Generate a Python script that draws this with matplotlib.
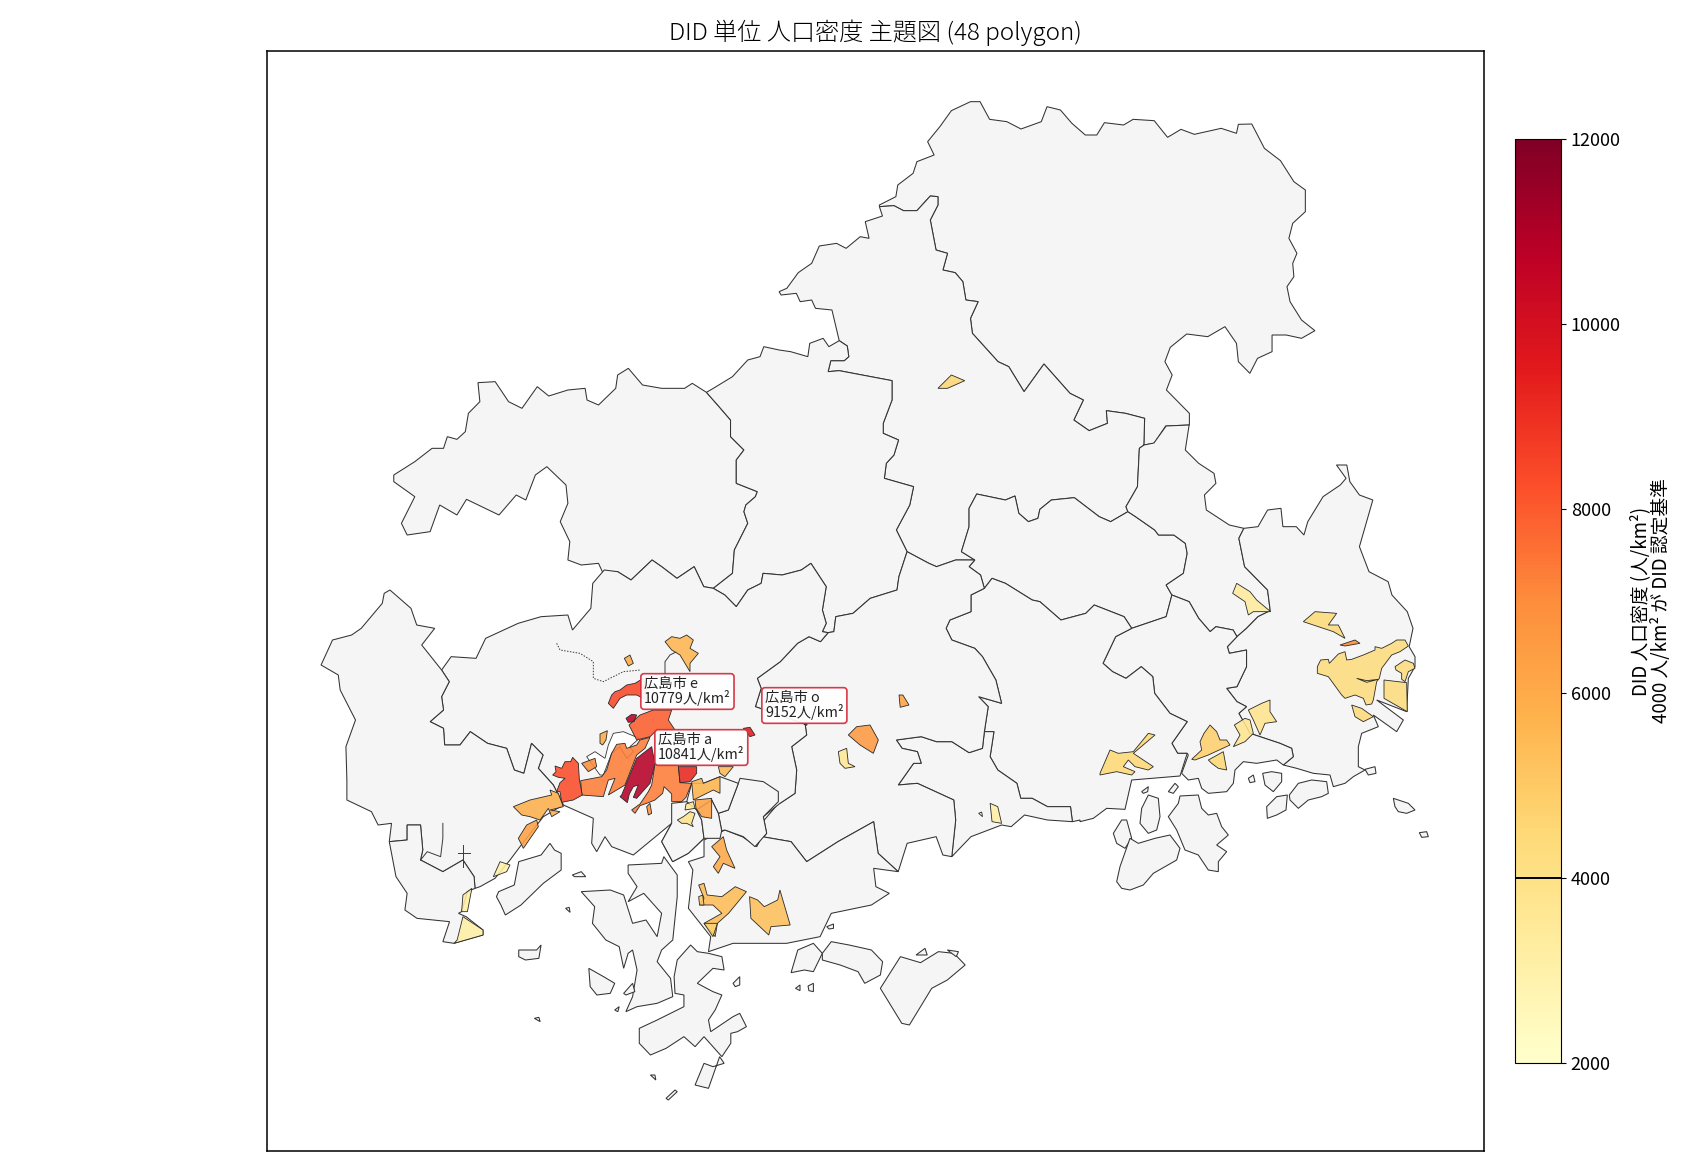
import numpy as np
import matplotlib
matplotlib.use("Agg")
import matplotlib.pyplot as plt
from matplotlib.patches import Polygon
from matplotlib.colors import Normalize
from matplotlib.cm import ScalarMappable

plt.rcParams['font.family'] = ['Noto Sans CJK JP', 'DejaVu Sans']

def sheet(x0, y0, sx, sy):
    return lambda pts: np.array(pts, float) / [sx, sy] + [x0, y0]
z1 = sheet(480, 620, 3, 3)
z2 = sheet(1080, 560, 3, 3)
z4 = sheet(300, 780, 2.24, 3)
z5 = sheet(300, 360, 2.613, 3)
z6 = sheet(760, 90, 2.613, 3)
z7 = sheet(860, 420, 2.613, 3)
z9 = sheet(540, 660, 3, 3)

# ---- shared boundaries
b_w1w2 = np.vstack([z5([(370,930),(390,965),(370,1010),(375,1050),(340,1085),(375,1105),(378,1155),(418,1155),(445,1115),(490,1150),(540,1165),(560,1230),(585,1240),(605,1150),(635,1185)]), z1([(175,445),(220,495)])])
b_inner = z4([(200,185),(240,180),(240,135),(270,135),(275,210),(270,240),(320,275),(365,240),(390,290),(392,325)])
b_w2top = z5([(370,930),(395,890),(460,895),(485,835),(570,790),(630,770),(700,765),(712,810)])
b_hs_n = z5([(712,810),(760,745),(765,670),(795,630),(830,635),(865,660),(920,600),(945,620),(985,655),(1030,620),(1055,680),(1080,685),(1110,705),(1140,740),(1170,690),(1205,670),(1210,640),(1260,645),(1310,630),(1335,610),(1375,680),(1365,750),(1375,790),(1365,815),(1380,818)])
b_hs_h = np.vstack([z5([(1380,818),(1360,845),(1330,830),(1300,850),(1255,905),(1195,955),(1205,985),(1190,1040),(1325,1095)]), z1([(975,310),(980,345),(935,380),(950,450),(945,520)])])
b_h_kure = np.vstack([z1([(945,520),(900,550)]), z4([(1075,65),(1040,120),(1035,170),(1100,185),(1135,245),(1205,185),(1285,125),(1295,220),(1340,275)])])
b_aki_h = np.vstack([z5([(1380,818),(1395,815),(1400,770),(1445,760),(1490,715),(1560,690),(1565,650)]), z7([(123,395)])])
b_miy_aki = np.vstack([z7([(123,395),(95,330),(130,255),(140,200)]), z6([(325,1165),(330,1120),(350,1095),(362,1050),(322,1030),(322,1000),(345,930),(345,872),(207,842),(178,845),(185,812),(220,812),(232,800),(228,768),(207,752)])])
b_miy_sho = z6([(1003,1065),(1005,985),(955,970),(905,962),(908,1000),(860,1022),(820,990),(845,930),(810,910),(742,822),(690,905),(650,830),(622,815),(555,730),(550,685),(570,635),(538,630),(530,575),(510,548),(478,540),(490,490),(460,480),(445,390),(465,345),(465,320),(445,318),(410,362),(375,362),(350,347),(312,350)])
b_miy_sera = z7([(123,395),(180,430),(200,440),(250,420),(300,420),(265,395),(285,320),(285,265),(305,222),(380,240),(405,228),(415,280),(440,305),(465,295),(470,268),(500,240),(560,233),(625,290),(655,305),(700,275)])
b_sera_r2 = z7([(700,275),(720,290),(770,330),(780,345),(820,345),(850,370),(855,400),(845,460),(800,495),(815,525)])
b_sera_h = z7([(300,420),(285,440),(315,465),(325,505),(345,475),(380,490),(450,540),(470,545),(525,600),(590,580),(612,555),(690,590),(710,625)])
b_sera_on = z7([(815,525),(800,590),(710,625)])
b_r2_r3 = z7([(1003,325),(990,355),(1005,440),(1065,510),(1072,572),(1040,590),(1010,625),(985,650)])
b_r2_on = z7([(815,525),(860,545),(885,595),(915,635),(930,620),(975,630),(985,650)])
b_mi_on = z7([(710,625),(668,650),(635,730),(660,755),(695,775),(735,740),(765,770),(770,820),(810,880),(855,905),(815,970),(830,1000),(855,1000)])
b_on_r3 = np.vstack([z7([(985,650),(960,680),(965,700),(1010,690),(1010,740),(985,800),(958,805),(985,845),(1010,860),(990,880)]), z2([(510,520),(600,550),(635,565),(640,590),(610,615)])])
b_h_mi = z7([(325,505),(290,525),(290,575),(235,600),(225,625),(240,660),(300,685),(320,710),(355,780),(370,850),(310,830),(335,860),(325,935)])
b_ta_mi = z7([(325,935),(350,935),(340,1010),(360,1050),(410,1090),(420,1135),(450,1135),(490,1160),(550,1160),(555,1205)])
b_h_ta = np.vstack([z7([(325,935),(320,985),(285,998),(240,965),(200,965),(160,950),(95,960),(110,985),(150,995),(160,1030),(140,1030),(100,1095),(150,1090),(245,1140),(250,1200)]), z4([(1460,230)])])

# ---- municipalities (no DID fill)
shobara = np.vstack([z6([(312,345),(355,320),(360,285),(400,250),(410,215),(455,195),(438,155),(470,110),(500,62),(550,35),(575,35),(600,88),(645,95),(682,117),(735,95),(750,50),(785,60),(815,100),(850,135),(880,135),(900,98),(950,105),(975,88),(1030,92),(1065,142),(1100,118),(1135,133),(1205,115),(1245,130),(1250,103),(1285,102),(1318,175),(1360,212),(1395,275),(1425,300),(1425,365),(1392,400),(1382,445),(1403,490),(1392,520),(1395,560),(1377,590),(1385,635),(1415,690),(1450,722),(1415,745),(1375,735),(1338,735),(1338,785),(1300,805),(1280,850),(1250,815),(1245,760),(1215,710),(1170,740),(1115,732),(1072,772),(1058,815),(1077,855),(1062,900),(1122,970),(1122,1005),(1060,1008),(1030,1060)]), b_miy_sho])
miyoshi = np.vstack([z6([(312,350),(320,378),(275,395),(285,445),(262,440),(225,475),(200,460),(155,468),(135,520),(100,548),(70,595),(50,605),(55,615),(95,610),(105,635),(135,630),(145,655),(188,660)]), b_miy_aki[::-1], b_miy_sera, z7([(695,260),(725,200),(730,85),(742,75)]), b_miy_sho])
sera = np.vstack([b_miy_sera[4:], b_sera_r2, b_sera_on, b_sera_h[::-1]])
north_west = z5([(245,345),(300,305),(345,265),(375,265),(385,230),(410,238),(432,215),(440,160),(470,125),(465,68),(510,65),(545,125),(580,145),(620,80),(650,108),(700,90),(745,85),(750,120),(780,135),(825,85),(830,45),(858,25),(895,75),(945,85),(1005,85),(1025,70),(1062,97),(1095,140),(1125,180),(1125,230),(1160,270),(1140,300),(1140,370),(1195,395),(1190,410),(1165,435),(1160,455),(1170,490),(1135,570),(1130,640),(1080,685),(1055,680),(1030,620),(985,655),(945,620),(920,600),(865,660),(830,635),(790,635),(780,610),(735,615),(700,600),(705,545),(680,485),(700,430),(695,375),(645,320),(615,345),(590,420),(565,405),(520,465),(435,418),(410,465),(365,435),(340,515),(280,525),(265,490),(300,410),(245,365)])
akitakata = np.vstack([z5([(1062,97),(1080,85),(1130,50),(1170,0)]), z6([(0,800),(10,770),(50,780),(80,785),(125,800),(130,760),(165,745),(180,770),(207,752)]), b_miy_aki[::-1], b_aki_h[::-1], b_hs_n[::-1][:14], z5([(1130,640),(1135,570),(1170,490),(1160,455),(1165,435),(1190,410),(1195,395),(1140,370),(1140,300),(1160,270),(1125,230),(1125,180),(1095,140)])])
fuchu = np.vstack([z7([(742,75),(768,69),(800,18),(860,15),(850,90),(885,130),(925,160),(930,190),(900,225),(905,270),(965,315),(1003,325)]), b_r2_r3, b_r2_on[::-1], b_sera_r2[::-1], z7([(695,260),(725,200),(730,85)])])
fukuyama = np.vstack([z7([(1003,325),(1040,320),(1065,270),(1100,265),(1105,320),(1140,320),(1160,345),(1170,305),(1210,230),(1255,195),(1270,175),(1245,135),(1272,135),(1280,185),(1305,225),(1340,240),(1310,360),(1305,380),(1330,455),(1380,485),(1390,525),(1430,575),(1445,625),(1435,680)]), z2([(1005,290),(1005,320),(985,355),(980,455),(890,420),(970,480),(950,515),(880,465),(895,500),(845,520),(835,560),(835,620),(855,630),(820,650),(795,670),(760,680),(750,645),(700,640),(650,625),(610,615)]), b_on_r3[::-1], b_r2_r3[::-1]])
onomichi = np.vstack([b_mi_on, z2([(325,585),(305,640),(325,660),(355,655),(365,685),(385,700),(440,695),(460,670),(465,630),(490,605),(530,610),(590,600),(610,615)]), b_on_r3[::-1], b_r2_on[::-1], b_sera_on])
mihara = np.vstack([b_mi_on, z2([(300,648),(155,660),(135,748),(80,745),(40,775),(0,785)]), z7([(575,1200)]), b_ta_mi[::-1], b_h_mi[::-1], b_sera_h[3:]])
takehara = np.vstack([b_ta_mi, z7([(490,1200),(430,1185),(395,1220),(370,1215),(290,1250)]), b_h_ta[::-1]])
higashihiroshima = np.vstack([b_hs_h, b_h_kure, z4([(1360,190),(1425,170),(1440,225),(1460,230)]), b_h_ta[::-1], b_h_mi[::-1], b_sera_h[:4][::-1], b_miy_sera[:5][::-1], b_aki_h[::-1]])
hiroshima_w = np.vstack([b_w2top, b_hs_n, b_hs_h, z1([(900,550),(850,590),(860,640),(825,680),(735,630),(672,655),(625,700),(578,725),(545,665),(575,610),(460,705),(395,680),(375,650),(350,695),(335,670),(340,595),(250,555)]), b_w1w2[::-1]])
otake_n = np.vstack([z5([(55,915),(85,840),(135,825),(160,805),(215,730),(220,700),(235,690),(290,745),(305,795),(352,805),(318,855),(370,930)]), b_w1w2, z1([(250,555),(190,590),(120,680),(90,720),(45,775),(0,800)]), b_inner[::-1], z4([(205,130),(175,135),(160,95),(105,60),(105,0)]), z5([(120,1160),(145,1080),(105,990),(100,945)])])
otake_s = np.vstack([b_inner, z4([(375,335),(362,395),(355,400),(372,410),(410,450),(410,465),(345,490),(320,485),(335,425),(262,415),(235,390),(240,340),(215,290)])])
kure = z4([(905,180),(952,150),(992,171),(1023,200),(1035,170),(1100,185),(1135,245),(1205,185),(1285,125),(1295,220),(1340,275),(1285,265),(1290,320),(1320,340),(1280,375),(1190,400),(1165,470),(1090,490),(970,490),(915,515),(920,470),(870,385),(880,270),(870,245),(905,230)])
kumano = z1([(775,490),(780,475),(850,485),(895,515),(895,545),(850,590),(860,640),(825,680),(790,650),(735,630),(725,632),(715,580),(745,570)])
kaita = z1([(670,490),(720,470),(775,490),(745,570),(715,580),(695,540),(650,570),(620,545),(635,490)])
saka = z1([(575,550),(620,545),(650,570),(665,600),(672,655),(625,700),(578,725),(545,665),(575,610)])
fukuyama_s = z1([(650,570),(695,540),(715,580),(725,632),(720,655),(672,655),(665,600)])

# ---- islands
miyajima = z4([(440,350),(445,335),(480,315),(490,245),(540,225),(560,190),(570,210),(585,220),(585,270),(545,310),(495,375),(460,405),(450,375)])
etajima = z4([(735,255),(810,250),(815,230),(845,285),(845,350),(835,480),(810,510),(800,545),(830,595),(835,650),(800,670),(755,680),(730,695),(745,650),(755,570),(745,510),(735,520),(725,565),(715,500),(685,480),(655,430),(660,380),(630,335),(695,330),(725,345),(745,430),(775,420),(800,470),(810,400),(770,340),(735,365),(755,320),(735,280)])
kurahashi = z4([(845,540),(875,495),(890,515),(915,520),(945,530),(950,570),(925,565),(890,610),(925,635),(945,645),(930,690),(915,720),(920,755),(970,710),(985,700),(1000,740),(980,755),(965,760),(965,790),(945,830),(905,770),(885,800),(860,770),(820,805),(785,825),(760,790),(760,745),(800,720),(860,680),(860,645),(840,640),(838,590)])
kurahashi_s = z4([(885,915),(905,850),(925,860),(950,850),(940,830),(915,925)])
kamagari_w = z4([(1100,578),(1115,510),(1150,490),(1170,520),(1150,575),(1130,570)])
kamagari_e = z4([(1170,520),(1190,485),(1230,495),(1280,510),(1305,545),(1300,585),(1265,610),(1250,575),(1210,555),(1170,540)])
osaki = z4([(1300,625),(1345,530),(1390,548),(1430,515),(1465,520),(1490,555),(1450,600),(1415,625),(1365,735),(1348,730)])
isl_a = z4([(490,510),(530,510),(540,495),(535,535),(505,540),(490,530)])
isl_b = z4([(610,285),(630,275),(640,290),(615,290)])
isl_c = z4([(647,565),(680,590),(705,610),(695,640),(665,645),(650,620)])
isl_d = z4([(725,640),(745,610),(750,635),(730,645)])
isl_e = z4([(970,610),(985,590),(985,615),(975,620)])
isl_f = z4([(1380,525),(1400,505),(1405,525)])
isl_g = z4([(1450,510),(1475,515),(1470,530)])
isl_h = z4([(1110,625),(1120,615),(1120,632)])
isl_i = z4([(1138,618),(1150,610),(1150,635),(1140,632)])
isl_j = z4([(595,385),(603,382),(605,397)])
isl_k = z4([(525,715),(535,712),(538,725)])
isl_l = z4([(820,955),(840,930),(845,935),(825,960)])
isl_m = z4([(785,885),(795,885),(797,900)])
isl_n = z4([(705,690),(715,680),(712,695)])
isl_o = z4([(1180,440),(1195,432),(1195,445),(1185,447)])
mukai = z2([(185,745),(205,705),(235,715),(240,770),(230,810),(205,820),(180,790)])
mukai_a = z2([(185,695),(205,680),(203,695),(190,700)])
mukai_b = z2([(265,695),(285,670),(295,680),(280,700)])
innoshima = z2([(265,770),(295,730),(300,708),(355,705),(365,745),(385,765),(410,760),(425,800),(445,825),(410,855),(440,875),(415,905),(415,935),(385,930),(355,885),(315,870),(290,810)])
ikuchi = z2([(100,820),(125,780),(140,780),(155,835),(135,865),(110,850)])
setoda = z2([(110,965),(120,920),(150,835),(175,850),(225,835),(270,825),(300,865),(290,900),(220,940),(190,975),(150,990),(125,985)])
yokoshima = z2([(548,640),(575,635),(605,640),(605,665),(580,695),(555,675)])
tajima = z2([(628,705),(655,670),(695,660),(740,665),(745,700),(725,710),(685,720),(655,745),(630,720)])
tajima_w = z2([(560,740),(590,710),(622,705),(618,750),(590,765),(562,775)])
hashiri = z2([(940,715),(985,730),(1005,750),(980,760),(955,755),(945,740)])
isl_p = z2([(1018,818),(1040,815),(1045,830),(1025,832)])
isl_q = z2([(505,655),(520,645),(525,665),(510,668)])
isl_r = z2([(855,628),(885,620),(888,640),(865,645)])

area_polys = [north_west, shobara, miyoshi, akitakata, sera, fuchu, fukuyama, onomichi, mihara, takehara,
              higashihiroshima, hiroshima_w, otake_n, otake_s, kure, kumano, kaita, saka, fukuyama_s,
              miyajima, etajima, kurahashi, kurahashi_s, kamagari_w, kamagari_e, osaki, isl_a, isl_b, isl_c,
              isl_d, isl_e, isl_f, isl_g, isl_h, isl_i, isl_j, isl_k, isl_l, isl_m, isl_n, isl_o, mukai, mukai_a,
              mukai_b, innoshima, ikuchi, setoda, yokoshima, tajima, tajima_w, hashiri, isl_p, isl_q, isl_r]

# white gaps between the coloured town areas
hole_bay = z1([(360,465),(320,410),(345,395),(375,415),(385,375),(400,340),(430,335),(478,355),(450,380),(460,395),(440,415),(420,380),(395,400),(370,465)])

# thin inner lines
line_dash = z1([(230,70),(240,90),(300,100),(340,125),(340,175),(370,185),(430,155),(482,150)])
line_north = z1([(555,165),(555,125),(570,105),(590,95)])
line_inlet = z4([(320,130),(320,175),(315,230),(285,215),(270,240)])
line_star_v = z4([(365,195),(365,260)])
line_star_h = z4([(355,220),(380,220)])

# ---- DID polygons and their densities (人/km²)
did_polys = [
    z1([(385,250),(395,225),(405,215),(420,210),(440,195),(465,190),(490,175),(500,200),(500,240),(470,225),(440,225),(420,235),(400,265)]),
    z9([(267,195),(300,165),(340,150),(395,150),(385,180),(405,210),(345,215),(330,230),(290,240)]),
    z9([(258,175),(275,163),(290,165),(282,185),(265,187)]),
    z9([(245,405),(290,295),(335,260),(345,312),(330,370),(290,415),(280,412),(295,375),(280,380),(268,402),(262,428),(240,410)]),
    z9([(122,362),(185,350),(200,330),(215,280),(230,253),(255,250),(260,265),(290,255),(300,240),(330,232),(315,265),(290,285),(255,375),(205,405),(225,355),(205,360),(190,410),(125,405)]),
    z9([(38,345),(48,335),(45,318),(65,325),(75,305),(92,305),(98,292),(115,310),(118,358),(127,405),(100,420),(65,427),(60,395),(50,395),(60,368),(75,355),(55,352)]),
    z9([(125,310),(165,295),(170,320),(145,335)]),
    z9([(180,222),(202,212),(198,240),(188,255),(180,250)]),
    z9([(275,450),(300,432),(325,395),(335,375),(345,312),(415,315),(420,368),(455,370),(438,412),(425,425),(395,425),(395,402),(385,392),(372,380),(368,400),(345,420),(320,430),(300,437),(285,460)]),
    z1([(500,560),(510,550),(515,580),(505,585)]),
    z9([(415,320),(470,320),(470,340),(450,365),(420,368)]),
    z1([(790,325),(810,322),(825,345),(810,350)]),
    z1([(635,485),(665,475),(670,490),(720,470),(720,520),(700,510),(640,540)]),
    z1([(645,540),(695,535),(695,595),(665,590),(648,565)]),
    z1([(618,552),(640,545),(645,565),(615,570)]),
    z1([(592,600),(610,590),(630,575),(645,580),(635,610),(640,620),(620,610),(605,610)]),
    z1([(715,440),(760,440),(735,470),(720,460)]),
    z1([(100,560),(150,540),(215,525),(210,510),(235,520),(250,560),(210,570),(240,575),(215,590),(205,565),(180,600),(150,590),(125,585)]),
    z1([(115,655),(140,615),(170,600),(175,620),(130,685)]),
    z1([(40,770),(60,725),(90,735),(80,755)]),
    z1([(555,65),(575,50),(600,55),(620,45),(640,60),(630,85),(655,100),(630,130),(630,155),(615,130),(600,105),(575,90)]),
    z1([(433,115),(450,105),(460,130),(445,138)]),
    z1([(695,680),(730,650),(740,690),(765,745),(730,730),(715,760),(700,740),(720,710)]),
    z1([(1105,345),(1130,320),(1170,315),(1195,360),(1180,400),(1140,375)]),
    z1([(1075,395),(1100,385),(1105,430),(1125,440),(1095,445),(1080,430)]),
    z4([(893,315),(905,310),(912,345),(945,350),(975,320),(1000,335),(960,400),(935,430),(930,470),(905,430),(945,400),(925,375),(895,375),(905,355)]),
    z4([(1007,350),(1025,360),(1040,380),(1070,360),(1075,330),(1098,435),(1055,440),(1050,465),(1010,415)]),
    z4([(352,480),(365,410),(410,450),(410,465),(345,490)]),
    z4([(365,345),(385,325),(375,395),(362,395)]),
    z7([(340,1150),(360,1160),(370,1210),(345,1205)]),
    z7([(102,825),(112,825),(128,855),(105,862)]),
    z6([(465,895),(500,855),(535,872),(490,895)]),
    z2([(458,100),(470,70),(510,95),(530,120),(572,155),(520,155),(505,165),(495,125)]),
    z2([(712,320),(722,300),(745,298),(748,310),(775,282),(795,275),(800,300),(815,298),(850,285),(885,270),(885,260),(905,265),(935,250),(950,240),(975,240),(985,258),(960,275),(935,285),(905,325),(898,355),(890,365),(880,420),(875,432),(858,435),(850,415),(825,405),(795,415),(785,405),(745,350),(712,340)]),
    z2([(912,360),(980,368),(982,455),(912,415)]),
    z2([(945,320),(975,300),(1000,310),(1005,325),(985,335),(975,365),(965,358),(965,340),(948,330)]),
    z2([(670,185),(705,155),(770,160),(745,195),(775,195),(795,235),(760,215)]),
    z2([(815,435),(845,445),(880,470),(850,485),(825,470)]),
    z2([(780,255),(825,240),(840,250),(795,258)]),
    z2([(463,495),(495,475),(510,480),(520,520),(495,545),(460,560),(480,525)]),
    z2([(505,450),(545,430),(570,420),(570,455),(590,485),(555,490),(540,525),(520,480)]),
    z2([(335,598),(365,570),(360,545),(372,520),(390,495),(410,515),(420,540),(440,540),(450,555),(385,585),(345,600)]),
    z2([(385,600),(430,575),(440,630),(415,625),(395,610)]),
    z2([(60,640),(90,570),(115,580),(160,575),(205,520),(225,525),(160,580),(220,620),(205,630),(165,620),(145,600),(130,620),(165,635),(155,645),(110,635),(60,645)]),
    z2([(830,355),(860,362),(895,358),(860,367)]),
    z4([(893,350),(902,345),(905,375),(895,375)]),
    z7([(310,1180),(318,1176),(320,1190)]),
    z4([(905,430),(935,430),(925,470)]),
]
did_values = [8400, 7900, 10779, 10841, 7300, 8300, 7000, 6000, 7300, 6800, 9152, 9400,
              5700, 6300, 3500, 3900, 5500, 5800, 6300, 3000, 5600, 6000, 6100, 6600, 3600,
              5400, 5300, 3100, 3200, 3100, 6200, 4600, 3400, 4300, 4300, 4300, 4400, 4400,
              7000, 3700, 3800, 4800, 4500, 4500, 4300, 5000, 3100, 4700]

labels = ["広島市 e\n10779人/km²", "広島市 a\n10841人/km²", "広島市 o\n9152人/km²"]
label_xy = [(644, 691.5), (658, 747.5), (765, 705.5)]
cbar_ticks = [2000, 4000, 6000, 8000, 10000, 12000]

W, H = 1690, 1170
fig = plt.figure(figsize=(W/100, H/100), dpi=100)
ax = fig.add_axes([267/W, 1-1151/H, (1484.5-267)/W, (1151-51)/H])
ax.set_xlim(267, 1484.5)
ax.set_ylim(1151, 51)
ax.set_xticks([]); ax.set_yticks([])
for s in ax.spines.values():
    s.set_linewidth(1.1)

for p in area_polys:
    ax.add_patch(Polygon(p, closed=True, fc='#f5f5f5', ec='#333333', lw=0.75, zorder=1))

norm = Normalize(2000, 12000)
cmap = plt.get_cmap('YlOrRd')
for p, v in zip(did_polys, did_values):
    r, g, b, _ = cmap(norm(v))
    ax.add_patch(Polygon(p, closed=True, fc=(r, g, b, 0.88), ec='#2a2a2a', lw=0.6, zorder=3))
ax.add_patch(Polygon(hole_bay, closed=True, fc='white', ec='#333333', lw=0.6, zorder=2.5))

ax.plot(*line_dash.T, color='#3a3a3a', lw=0.7, ls=(0, (1.5, 1.5)), zorder=2)
for ln in (line_north, line_inlet, line_star_v, line_star_h):
    ax.plot(*ln.T, color='#3a3a3a', lw=0.7, zorder=2)

for t, xy in zip(labels, label_xy):
    ax.text(xy[0], xy[1], t, fontsize=10.3, color='#222222', ha='left', va='center', linespacing=0.95, zorder=5,
            bbox=dict(boxstyle='round,pad=0.22', fc='white', ec='#d62839', lw=1.2, alpha=0.92))

ax.set_title("DID 単位 人口密度 主題図 (48 polygon)", fontsize=17.4, pad=8, fontweight='light')

cax = fig.add_axes([1515/W, 1-1063/H, 46/W, 924/H])
cb = fig.colorbar(ScalarMappable(norm=norm, cmap=cmap), cax=cax, ticks=cbar_ticks)
cb.ax.tick_params(labelsize=13)
cb.set_label("DID 人口密度 (人/km²)\n4000 人/km² が DID 認定基準", fontsize=13.5, linespacing=0.95, labelpad=7)
cb.ax.axhline(4000, color='black', lw=1.4)

fig.savefig("out.png", dpi=100)
